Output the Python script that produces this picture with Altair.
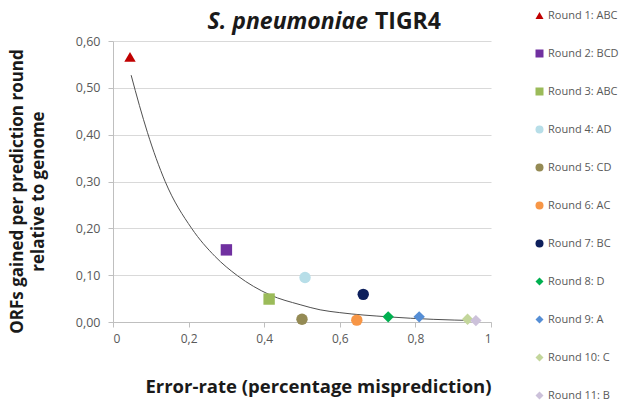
import altair as alt
import pandas as pd

# Prediction rounds: error-rate vs ORFs gained (relative to genome)
rounds = ["Round 1: ABC", "Round 2: BCD", "Round 3: ABC", "Round 4: AD", "Round 5: CD",
          "Round 6: AC", "Round 7: BC", "Round 8: D", "Round 9: A", "Round 10: C", "Round 11: B"]
error_rate = [0.045, 0.300, 0.413, 0.508, 0.500, 0.645, 0.662, 0.728, 0.810, 0.938, 0.960]
orfs_gained = [0.566, 0.154, 0.049, 0.095, 0.006, 0.004, 0.059, 0.011, 0.011, 0.006, 0.003]
shapes = ["triangle-up", "square", "square", "circle", "circle", "circle", "circle",
          "diamond", "diamond", "diamond", "diamond"]
colors = ["#C00000", "#7030A0", "#9BBB59", "#B7DEE8", "#948A54", "#F79646",
          "#0D1F5C", "#00B050", "#558ED5", "#C3D69B", "#CCC1DA"]

# Exponential trend curve, sampled along its path
trend_x = [0.048, 0.070, 0.091, 0.138, 0.208, 0.270, 0.329, 0.415, 0.495, 0.548,
           0.600, 0.728, 0.847, 0.958]
trend_y = [0.527, 0.462, 0.405, 0.300, 0.200, 0.140, 0.099, 0.058, 0.037, 0.026,
           0.020, 0.011, 0.0057, 0.003]

title_italic = "S. pneumoniae"
title_bold = "TIGR4"
x_title = "Error-rate (percentage misprediction)"
y_title = ["ORFs gained per prediction round", "relative to genome"]
x_ticks = [0, 0.2, 0.4, 0.6, 0.8, 1.0]
y_ticks = [0, 0.1, 0.2, 0.3, 0.4, 0.5, 0.6]

FONT = "Open Sans"
AXIS_GREY = "#BFBFBF"
LABEL_GREY = "#595959"
TEXT_DARK = "#1A1A1A"

points_df = pd.DataFrame({"round": rounds, "error": error_rate, "orfs": orfs_gained})
trend_df = pd.DataFrame({"error": trend_x, "orfs": trend_y})

x_enc = alt.X(
    "error:Q",
    scale=alt.Scale(domain=[0, 1], nice=False),
    axis=alt.Axis(
        values=x_ticks, grid=False, domainColor=AXIS_GREY, tickColor=AXIS_GREY,
        tickSize=5, labelColor=LABEL_GREY, labelFontSize=12, labelPadding=6,
        labelExpr="replace(format(datum.value, '~g'), '.', ',')",
        title=x_title, titleFontSize=18.5, titleFontWeight="bold", titleColor=TEXT_DARK,
        titleX=205, titleY=70, titleBaseline="alphabetic", titleAlign="center",
    ),
)
y_enc = alt.Y(
    "orfs:Q",
    scale=alt.Scale(domain=[0, 0.6], nice=False),
    axis=alt.Axis(
        values=y_ticks, grid=True, gridColor="#D9D9D9", domainColor=AXIS_GREY,
        tickColor=AXIS_GREY, tickSize=5, labelColor=LABEL_GREY, labelFontSize=12.5,
        labelPadding=8, labelExpr="replace(format(datum.value, '.2f'), '.', ',')",
        title=y_title, titleFontSize=17, titleFontWeight="bold", titleColor=TEXT_DARK,
        titleX=-104, titleY=150, titleBaseline="top", titleAlign="center",
        titleLineHeight=21,
    ),
)

trend = alt.Chart(trend_df).mark_line(
    color="#505050", strokeWidth=1, interpolate="monotone"
).encode(x=x_enc, y=y_enc)

points = alt.Chart(points_df).mark_point(filled=True, opacity=1, size=130).encode(
    x=x_enc,
    y=y_enc,
    color=alt.Color(
        "round:N",
        sort=rounds,
        scale=alt.Scale(domain=rounds, range=colors),
        legend=alt.Legend(
            orient="none", legendX=421, legendY=-31, title=None, padding=0,
            symbolSize=64, symbolStrokeWidth=0, labelFont=FONT, labelFontSize=11,
            labelColor=LABEL_GREY, labelOffset=3, rowPadding=26,
        ),
    ),
    shape=alt.Shape("round:N", sort=rounds, scale=alt.Scale(domain=rounds, range=shapes)),
)

title_left = alt.Chart(pd.DataFrame({"t": [title_italic]})).mark_text(
    font=FONT, fontSize=23, fontWeight="bold", fontStyle="italic", align="right",
    baseline="alphabetic", color=TEXT_DARK,
).encode(x=alt.value(255), y=alt.value(-12), text="t:N")

title_right = alt.Chart(pd.DataFrame({"t": [title_bold]})).mark_text(
    font=FONT, fontSize=23, fontWeight="bold", align="left",
    baseline="alphabetic", color=TEXT_DARK,
).encode(x=alt.value(262), y=alt.value(-12), text="t:N")

chart = (
    alt.layer(trend, points, title_left, title_right)
    .properties(
        width=378, height=281,
        autosize=alt.AutoSizeParams(type="none"),
        padding={"left": 113, "top": 41, "right": 139, "bottom": 86},
    )
    .configure(font=FONT)
    .configure_view(stroke=None)
    .configure_axis(labelFont=FONT, titleFont=FONT)
)

chart.save("out.html", embed_options={"renderer": "svg", "actions": False})
